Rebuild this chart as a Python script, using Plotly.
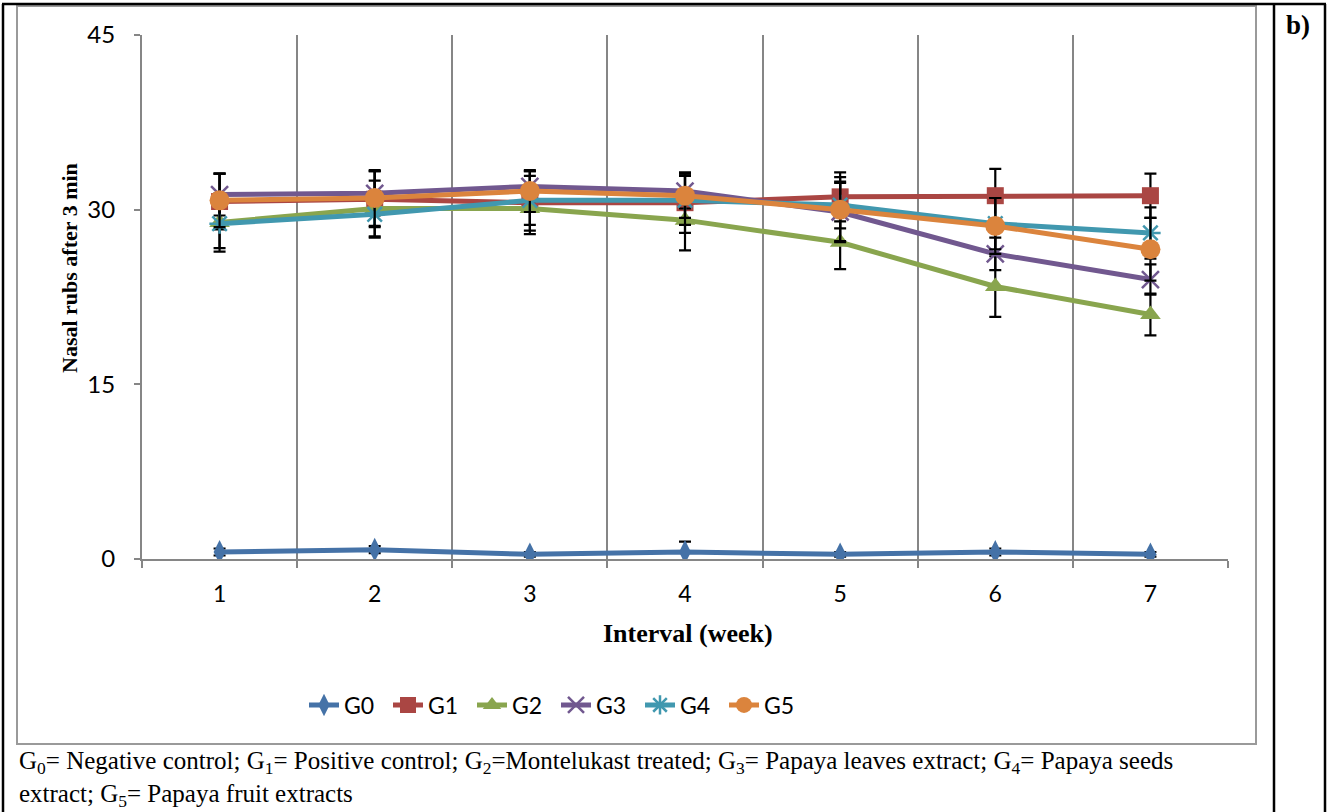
import plotly.graph_objects as go

# ---- data -----------------------------------------------------------------
weeks = ["1", "2", "3", "4", "5", "6", "7"]
groups = ["G0", "G1", "G2", "G3", "G4", "G5"]

g0 = [0.6, 0.8, 0.4, 0.6, 0.4, 0.6, 0.4]
g1 = [30.7, 30.9, 30.6, 30.6, 31.1, 31.2, 31.2]
g2 = [28.9, 30.1, 30.1, 29.1, 27.2, 23.4, 21.0]
g3 = [31.3, 31.4, 32.0, 31.6, 29.8, 26.2, 24.0]
g4 = [28.8, 29.6, 30.8, 30.8, 30.4, 28.8, 28.0]
g5 = [30.8, 31.0, 31.6, 31.2, 30.0, 28.6, 26.6]

g0_err = [0.3, 0.3, 0.2, 0.9, 0.2, 0.3, 0.2]
g1_err = [2.4, 2.4, 2.7, 2.6, 2.1, 2.3, 1.9]
g2_err = [2.5, 2.4, 1.9, 2.6, 2.3, 2.6, 1.8]
g3_err = [1.8, 1.9, 1.3, 1.5, 2.5, 1.4, 1.3]
g4_err = [2.1, 2.0, 2.1, 2.1, 2.0, 2.2, 2.2]
g5_err = [2.3, 2.4, 1.8, 1.9, 2.8, 2.4, 2.7]

y_ticks = [0, 15, 30, 45]

# ---- styling ----------------------------------------------------------------
W, H = 1327, 812
ML, MR, MT, MB = 142, 99, 35, 253
PW, PH = W - ML - MR, H - MT - MB

AXIS_GRAY = "#868686"
TICK_FONT = "Lato"
SERIF = "Liberation Serif, Times New Roman, serif"


def px_x(p):
    return (p - ML) / PW


def px_y(p):
    return (H - MB - p) / PH


series = [
    ("G0", g0, g0_err, "#4572A7", dict(symbol="diamond-tall", size=17)),
    ("G1", g1, g1_err, "#AA4643", dict(symbol="square", size=17)),
    ("G2", g2, g2_err, "#89A54E", dict(symbol="triangle-up", size=18)),
    ("G3", g3, g3_err, "#71588F", dict(symbol="x-thin-open", size=17)),
    ("G4", g4, g4_err, "#4198AF", dict(symbol="asterisk-open", size=17)),
    ("G5", g5, g5_err, "#DB843D", dict(symbol="circle", size=20)),
]

fig = go.Figure()
for name, vals, err, color, mk in series:
    marker = dict(color=color, **mk)
    if mk["symbol"].endswith("open"):
        marker["line"] = dict(color=color, width=2.5)
    fig.add_trace(go.Scatter(
        x=weeks, y=vals, name=name, mode="lines+markers",
        line=dict(color=color, width=5),
        marker=marker,
        error_y=dict(type="data", array=err, color="black",
                     thickness=2.2, width=6),
    ))

fig.update_layout(
    width=W, height=H,
    margin=dict(l=ML, r=MR, t=MT, b=MB),
    paper_bgcolor="white", plot_bgcolor="white",
    showlegend=True,
    legend=dict(
        orientation="h", x=px_x(556), xanchor="center",
        y=px_y(705), yanchor="middle",
        font=dict(family=TICK_FONT, size=23, color="black"),
        entrywidth=39, entrywidthmode="pixels",
        itemwidth=30,
    ),
    xaxis=dict(
        type="category", tickson="boundaries", range=[-0.5, 6.5],
        showgrid=True, gridcolor=AXIS_GRAY, gridwidth=2,
        showline=True, linecolor=AXIS_GRAY, linewidth=2,
        ticks="outside", ticklen=7, tickwidth=2, tickcolor=AXIS_GRAY,
        tickfont=dict(family=TICK_FONT, size=23, color="black"),
        ticklabelstandoff=13,
        zeroline=False,
    ),
    yaxis=dict(
        range=[0, 45], tickvals=y_ticks,
        showgrid=False, zeroline=False,
        showline=True, linecolor=AXIS_GRAY, linewidth=2,
        ticks="outside", ticklen=6, tickwidth=2, tickcolor=AXIS_GRAY,
        tickfont=dict(family=TICK_FONT, size=24, color="black"),
        ticklabelstandoff=14,
    ),
)

# axis titles
fig.add_annotation(
    text="<b>Nasal rubs after 3 min</b>", textangle=-90,
    x=px_x(69), y=px_y(268), xref="paper", yref="paper",
    showarrow=False, xanchor="center", yanchor="middle",
    font=dict(family=SERIF, size=22, color="black"),
)
fig.add_annotation(
    text="<b>Interval (week)</b>",
    x=px_x(688), y=px_y(633), xref="paper", yref="paper",
    showarrow=False, xanchor="center", yanchor="middle",
    font=dict(family=SERIF, size=26, color="black"),
)

# panel label
fig.add_annotation(
    text="<b>b)</b>",
    x=px_x(1298), y=px_y(25), xref="paper", yref="paper",
    showarrow=False, xanchor="center", yanchor="middle",
    font=dict(family=SERIF, size=27, color="black"),
)

# footnote
foot1 = ("G<sub>0</sub>= Negative control; G<sub>1</sub>= Positive control; "
         "G<sub>2</sub>=Montelukast treated; G<sub>3</sub>= Papaya leaves extract; "
         "G<sub>4</sub>= Papaya seeds")
foot2 = "extract; G<sub>5</sub>= Papaya fruit extracts"
for txt, yc in [(foot1, 763), (foot2, 795.5)]:
    fig.add_annotation(
        text=txt, x=px_x(17), y=px_y(yc), xref="paper", yref="paper",
        showarrow=False, xanchor="left", yanchor="middle", align="left",
        font=dict(family=SERIF, size=25, color="black"),
    )

# chart frame (gray) and table borders (black)
fig.add_shape(type="rect", xref="paper", yref="paper",
              x0=px_x(17), x1=px_x(1256), y0=px_y(744), y1=px_y(6),
              line=dict(color="#9a9a9a", width=2), fillcolor="rgba(0,0,0,0)",
              layer="below")
for x0, y0, x1, y1 in [(2, 4, 1326, 4), (3, 4, 3, 812),
                       (1274, 4, 1274, 812), (1325, 4, 1325, 812)]:
    fig.add_shape(type="line", xref="paper", yref="paper",
                  x0=px_x(x0), x1=px_x(x1), y0=px_y(y0), y1=px_y(y1),
                  line=dict(color="black", width=2.5))

fig.write_html("out.html")
